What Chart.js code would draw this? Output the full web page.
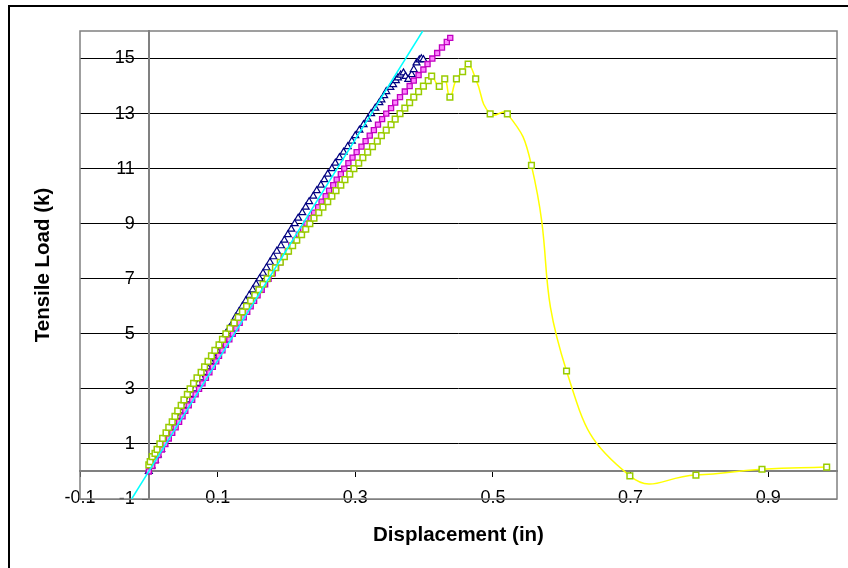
<!DOCTYPE html>
<html>
<head>
<meta charset="utf-8">
<title>Tensile Load vs Displacement</title>
<script src="https://cdn.jsdelivr.net/npm/chart.js@4.4.1/dist/chart.umd.min.js"></script>
<style>
  html, body { margin: 0; padding: 0; background: #fff; overflow: hidden; }
  #wrap { position: relative; width: 848px; height: 568px; }
  #frame { position: absolute; left: 8px; top: 5px; width: 900px; height: 700px; border: 2px solid #000; box-sizing: border-box; }
  canvas { position: absolute; left: 0; top: 0; }
</style>
</head>
<body>
<div id="wrap">
  <div id="frame"></div>
  <canvas id="chart" width="848" height="568"></canvas>
</div>
<script>
// Ejes: marcas y etiquetas
const xTicks = [-0.1, 0.1, 0.3, 0.5, 0.7, 0.9];
const yTicks = [-1, 1, 3, 5, 7, 9, 11, 13, 15];

// Serie 1 (triángulos azul marino)
const navyX = [0.000, 0.004, 0.009, 0.013, 0.018, 0.022, 0.027, 0.031, 0.036, 0.040,
  0.045, 0.049, 0.054, 0.058, 0.063, 0.067, 0.072, 0.076, 0.081, 0.085,
  0.090, 0.094, 0.099, 0.103, 0.108, 0.112, 0.117, 0.122, 0.126, 0.131,
  0.136, 0.141, 0.146, 0.151, 0.156, 0.161, 0.166, 0.171, 0.176, 0.181,
  0.186, 0.192, 0.197, 0.202, 0.207, 0.212, 0.217, 0.223, 0.228, 0.233,
  0.239, 0.244, 0.250, 0.255, 0.260, 0.266, 0.271, 0.277, 0.283, 0.289,
  0.295, 0.300, 0.306, 0.312, 0.318, 0.323, 0.329, 0.335, 0.338, 0.342,
  0.345, 0.351, 0.355, 0.359, 0.362, 0.366, 0.370, 0.373, 0.377, 0.382,
  0.385, 0.389, 0.393, 0.396, 0.399];
const navyY = [0.0, 0.2, 0.4, 0.6, 0.8, 1.0, 1.2, 1.4, 1.6, 1.8,
  2.0, 2.2, 2.4, 2.6, 2.8, 3.0, 3.2, 3.4, 3.6, 3.8,
  4.0, 4.2, 4.4, 4.6, 4.8, 5.0, 5.2, 5.4, 5.6, 5.8,
  6.0, 6.2, 6.4, 6.6, 6.8, 7.0, 7.2, 7.4, 7.6, 7.8,
  8.0, 8.2, 8.4, 8.6, 8.8, 9.0, 9.2, 9.4, 9.6, 9.8,
  10.0, 10.2, 10.4, 10.6, 10.8, 11.0, 11.2, 11.4, 11.6, 11.8,
  12.0, 12.2, 12.4, 12.6, 12.8, 13.0, 13.2, 13.4, 13.5, 13.65,
  13.8, 13.95, 14.05, 14.2, 14.3, 14.4, 14.48, 14.35, 14.24, 14.42,
  14.6, 14.84, 14.95, 14.99, 14.96];

// Serie 2 (cuadros magenta)
const magentaX = [0.000, 0.005, 0.010, 0.014, 0.019, 0.024, 0.029, 0.034, 0.039, 0.044,
  0.049, 0.053, 0.058, 0.063, 0.068, 0.073, 0.078, 0.083, 0.088, 0.093,
  0.098, 0.102, 0.107, 0.112, 0.117, 0.122, 0.127, 0.132, 0.138, 0.143,
  0.148, 0.153, 0.158, 0.164, 0.169, 0.174, 0.180, 0.185, 0.191, 0.196,
  0.202, 0.207, 0.213, 0.218, 0.224, 0.229, 0.235, 0.240, 0.246, 0.251,
  0.257, 0.262, 0.268, 0.273, 0.279, 0.284, 0.290, 0.296, 0.302, 0.309,
  0.315, 0.321, 0.327, 0.333, 0.339, 0.345, 0.352, 0.358, 0.365, 0.372,
  0.379, 0.385, 0.392, 0.399, 0.405, 0.412, 0.419, 0.426, 0.433, 0.438];
const magentaY = [0.0, 0.2, 0.4, 0.6, 0.8, 1.0, 1.2, 1.4, 1.6, 1.8,
  2.0, 2.2, 2.4, 2.6, 2.8, 3.0, 3.2, 3.4, 3.6, 3.8,
  4.0, 4.2, 4.4, 4.6, 4.8, 5.0, 5.2, 5.4, 5.6, 5.8,
  6.0, 6.2, 6.4, 6.6, 6.8, 7.0, 7.2, 7.4, 7.6, 7.8,
  8.0, 8.2, 8.4, 8.6, 8.8, 9.0, 9.2, 9.4, 9.6, 9.8,
  10.0, 10.2, 10.4, 10.6, 10.8, 11.0, 11.2, 11.4, 11.6, 11.8,
  12.0, 12.2, 12.4, 12.6, 12.8, 13.0, 13.2, 13.4, 13.6, 13.8,
  14.0, 14.2, 14.4, 14.6, 14.8, 15.0, 15.2, 15.4, 15.6, 15.75];

// Serie 3 (cuadros verdes con línea amarilla suavizada)
const greenX = [0.000, 0.002, 0.005, 0.009, 0.012,
  0.016, 0.020, 0.025, 0.029, 0.034, 0.038, 0.042, 0.047, 0.051, 0.056,
  0.060, 0.065, 0.070, 0.076, 0.081, 0.086, 0.091, 0.096, 0.102, 0.107,
  0.112, 0.118, 0.124, 0.130, 0.136, 0.142, 0.148, 0.154, 0.160, 0.166,
  0.172, 0.178, 0.184, 0.191, 0.197, 0.203, 0.209, 0.215, 0.222, 0.228,
  0.234, 0.240, 0.247, 0.253, 0.260, 0.266, 0.272, 0.279, 0.285, 0.292,
  0.298, 0.305, 0.311, 0.318, 0.325, 0.332, 0.338, 0.345, 0.352, 0.358,
  0.365, 0.372, 0.379, 0.385, 0.392, 0.399, 0.406, 0.411,
  0.422, 0.430, 0.4375, 0.447, 0.456, 0.464, 0.475, 0.496, 0.521, 0.556,
  0.607, 0.699, 0.795, 0.891, 0.985];
const greenY = [0.24, 0.36, 0.54, 0.66, 0.80,
  1.0, 1.2, 1.4, 1.6, 1.8, 2.0, 2.2, 2.4, 2.6, 2.8,
  3.0, 3.2, 3.4, 3.6, 3.8, 4.0, 4.2, 4.4, 4.6, 4.8,
  5.0, 5.2, 5.4, 5.6, 5.8, 6.0, 6.2, 6.4, 6.6, 6.8,
  7.0, 7.2, 7.4, 7.6, 7.8, 8.0, 8.2, 8.4, 8.6, 8.8,
  9.0, 9.2, 9.4, 9.6, 9.8, 10.0, 10.2, 10.4, 10.6, 10.8,
  11.0, 11.2, 11.4, 11.6, 11.8, 12.0, 12.2, 12.4, 12.6, 12.8,
  13.0, 13.2, 13.4, 13.6, 13.8, 14.0, 14.2, 14.36,
  13.99, 14.26, 13.6, 14.26, 14.52, 14.8, 14.26, 12.99, 12.99, 11.12,
  3.65, -0.16, -0.13, 0.08, 0.16];

// Recta de ajuste (cian)
const fitX = [-0.025, 0.398];
const fitY = [-1.0, 16.0];

const FONT = "'Liberation Sans', Arial, sans-serif";

function toPoints(xs, ys) {
    return xs.map((x, i) => ({ x: x, y: ys[i] }));
}

// Marco gris del área de trazado
const plotFrame = {
    id: 'plotFrame',
    beforeDatasetsDraw(chart) {
        const { ctx, chartArea: a } = chart;
        ctx.save();
        ctx.strokeStyle = '#808080';
        ctx.lineWidth = 1.5;
        ctx.strokeRect(a.left, a.top, a.right - a.left, a.bottom - a.top);
        ctx.restore();
    }
};

const ctx = document.getElementById('chart').getContext('2d');
new Chart(ctx, {
    type: 'scatter',
    data: {
        datasets: [
            {
                label: 'Ajuste lineal',
                data: toPoints(fitX, fitY),
                showLine: true,
                borderColor: '#00FFFF',
                borderWidth: 1.5,
                pointRadius: 0,
                order: 0
            },
            {
                label: 'Probeta 3',
                data: toPoints(greenX, greenY),
                showLine: true,
                borderColor: '#FFFF00',
                borderWidth: 1.5,
                tension: 0.5,
                pointStyle: 'rect',
                pointRadius: 4,
                pointBorderWidth: 1.5,
                pointBorderColor: '#99CC00',
                pointBackgroundColor: '#FFFFFF',
                order: 1
            },
            {
                label: 'Probeta 2',
                data: toPoints(magentaX, magentaY),
                showLine: false,
                pointStyle: 'rect',
                pointRadius: 3.6,
                pointBorderWidth: 1.3,
                pointBorderColor: '#C000C0',
                pointBackgroundColor: '#FF80FF',
                order: 2
            },
            {
                label: 'Probeta 1',
                data: toPoints(navyX, navyY),
                showLine: false,
                pointStyle: 'triangle',
                pointRadius: 4,
                pointBorderWidth: 1.2,
                pointBorderColor: '#000080',
                pointBackgroundColor: '#FFFFFF',
                order: 3
            }
        ]
    },
    options: {
        responsive: false,
        animation: false,
        events: [],
        layout: { padding: { left: 31, top: 31, right: 11, bottom: 0 } },
        plugins: {
            legend: { display: false },
            tooltip: { enabled: false }
        },
        scales: {
            x: {
                type: 'linear',
                position: { y: 0 },
                min: -0.1,
                max: 1.0,
                afterBuildTicks: (scale) => { scale.ticks = xTicks.map(v => ({ value: v })); },
                grid: { drawOnChartArea: false, drawTicks: true, tickLength: 5, color: '#000000' },
                border: { color: '#808080', width: 2 },
                ticks: {
                    autoSkip: false,
                    maxRotation: 0,
                    padding: 11,
                    color: '#000000',
                    font: { family: FONT, size: 18 },
                    callback: (v) => Number(v).toFixed(1)
                }
            },
            y: {
                type: 'linear',
                position: { x: 0 },
                min: -1,
                max: 16,
                afterBuildTicks: (scale) => { scale.ticks = yTicks.map(v => ({ value: v })); },
                grid: {
                    color: (c) => (c.tick && c.tick.value === -1 ? '#808080' : '#000000'),
                    tickColor: '#000000',
                    tickLength: 6,
                    lineWidth: 1
                },
                border: { color: '#808080', width: 2 },
                ticks: { display: false }
            },
            // etiquetas del eje Y, a la izquierda de la línea x = 0
            yLabels: {
                type: 'linear',
                axis: 'y',
                position: { x: -0.0203 },
                min: -1,
                max: 16,
                afterBuildTicks: (scale) => { scale.ticks = yTicks.map(v => ({ value: v })); },
                grid: { drawOnChartArea: false, drawTicks: false },
                border: { display: false },
                ticks: {
                    autoSkip: false,
                    padding: 0,
                    color: '#000000',
                    font: { family: FONT, size: 18 },
                    callback: (v) => String(v)
                }
            },
            yTitle: {
                type: 'linear',
                axis: 'y',
                position: 'left',
                display: true,
                grid: { display: false, drawTicks: false },
                border: { display: false },
                ticks: { display: false },
                title: {
                    display: true,
                    text: 'Tensile Load (k)',
                    color: '#000000',
                    font: { family: FONT, size: 20.5, weight: 'bold' },
                    padding: { top: 0, bottom: 24.4 }
                }
            },
            xTitle: {
                type: 'linear',
                axis: 'x',
                position: 'bottom',
                display: true,
                grid: { display: false, drawTicks: false },
                border: { display: false },
                ticks: { display: false },
                title: {
                    display: true,
                    text: 'Displacement (in)',
                    color: '#000000',
                    font: { family: FONT, size: 20.5, weight: 'bold' },
                    padding: { top: 23.7, bottom: 20.7 }
                }
            }
        }
    },
    plugins: [plotFrame]
});
</script>
</body>
</html>
